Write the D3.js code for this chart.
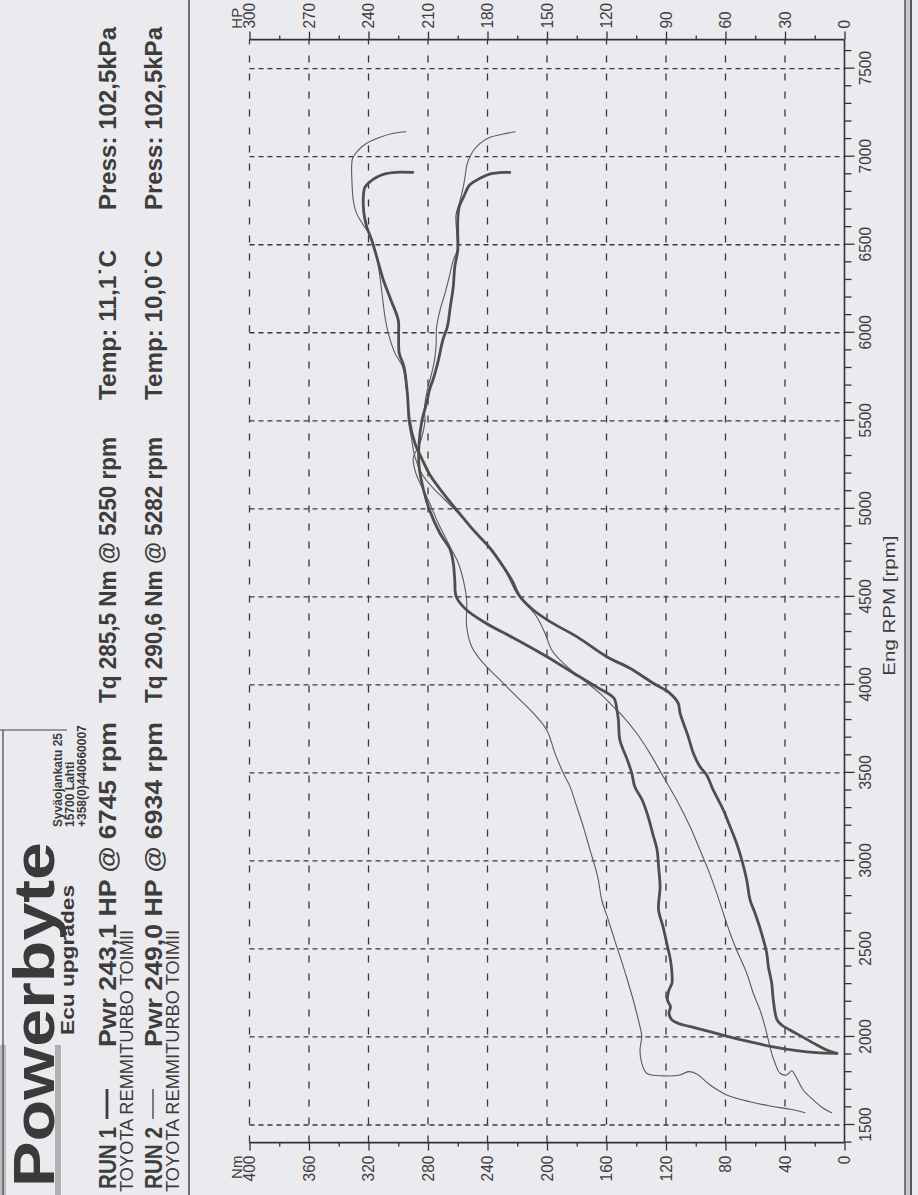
<!DOCTYPE html>
<html><head><meta charset="utf-8">
<script src="https://cdn.jsdelivr.net/npm/d3@7"></script>
<style>
html,body{margin:0;padding:0;background:#ebeaee;}
svg{display:block;}
</style></head><body>
<svg id="chart" width="918" height="1195"></svg>
<script>
// ---------- DATA ----------
const rpmTicks = d3.range(1400, 7601, 100);
const rpmLabels = d3.range(1500, 7501, 500);
const nmTicks = d3.range(0, 401, 20);
const nmLabels = d3.range(0, 401, 40);
const hpTicks = d3.range(0, 301, 15);
const hpLabels = d3.range(0, 301, 30);

const runNames = ["RUN 1", "RUN 2"];
const runCars = ["TOYOTA REMMITURBO TOIMII", "TOYOTA REMMITURBO TOIMII"];
const runPwr = ["Pwr  243,1 HP @ 6745 rpm", "Pwr  249,0 HP @ 6934 rpm"];
const runTq = ["Tq 285,5 Nm @ 5250 rpm", "Tq 290,6 Nm @ 5282 rpm"];
const runTemp = ["Temp: 11,1\u02D9C", "Temp: 10,0\u02D9C"];
const runPress = ["Press: 102,5kPa", "Press: 102,5kPa"];
const address = ["Syv\u00e4ojankatu 25", "15700 Lahti", "+358(0)440660007"];

// RUN 1 (thick)
const run1TqRpm = [1907,1911,1922,1944,1973,2011,2049,2068,2078,2097,2135,2172,2210,2267,2305,2362,2438,2513,2627,2722,2854,2967,3063,3157,3251,3346,3422,3498,3574,3687,3801,3857,3924,3990,4066,4160,4255,4350,4425,4501,4596,4691,4766,4861,4993,5107,5239,5372,5504,5599,5675,5750,5845,5959,6034,6148,6262,6375,6470,6565,6640,6716,6773,6839,6877,6902,6911,6911];
const run1TqNm = [5,19,32,48,64,82,99,108,112,116,118,117,119,118,116,116,117,119,122,125,124,125,126,129,132,136,141,143,146,151,152,153,155,167,182,200,220,241,254,261,262,263,265,272,279,283,286,286,284,281,279,276,273,270,267,265,263,262,260,260,260,259,256,252,245,238,229,225];
const run1PwrRpm = [1907,1926,1955,1999,2040,2068,2097,2210,2305,2400,2475,2589,2703,2778,2892,3006,3100,3195,3289,3403,3488,3536,3611,3706,3839,3895,3952,4009,4094,4160,4274,4359,4425,4501,4596,4671,4776,4880,4993,5088,5192,5287,5372,5504,5656,5807,5883,5997,6072,6186,6300,6432,6527,6602,6678,6773,6826,6858,6883,6902,6911,6911];
const run1PwrHp = [4,9,14,21,27.5,31.7,34,35.9,36.7,38.4,39.2,41.8,45.1,47.6,49.3,51.8,54.4,57.7,61.1,66.2,69.5,72.9,76.2,78.8,82.9,83.8,88,96.4,108.2,119.9,135,148.5,156.9,163.6,167.8,172,178.7,187.2,195.5,202.3,209,213.2,216.6,219.4,220.4,222.1,224.5,224.8,225,228.7,232.5,235.9,238.4,240.9,242.3,242.6,241.8,239.2,235.9,231.7,226.6,217.7];

// RUN 2 (thin)
const run2TqRpm = [1570,1589,1608,1632,1671,1727,1790,1803,1784,1779,1794,1851,1926,2002,2059,2135,2210,2305,2400,2513,2665,2778,2892,2967,3063,3195,3308,3422,3498,3611,3744,3839,3933,4028,4123,4217,4330,4482,4596,4691,4785,4918,5050,5126,5201,5287,5372,5504,5561,5656,5732,5826,5921,6034,6129,6224,6318,6413,6470,6565,6669,6735,6811,6886,6962,7028,7076,7110,7129,7142];
const run2TqNm = [26.6,36.6,50.1,63.5,79.2,90.4,99.4,105,110.6,121.8,133,136.3,137.5,136.3,137.5,139.7,142,145.3,148.7,153.1,158.8,163.2,165.5,167.7,171.1,175.6,180,184.5,189,194.6,200.2,209.2,220.4,231.6,242.8,250.6,254,254,256.3,259.6,265.2,273.1,279.8,284.2,288.1,289.9,285.4,282,282.5,280.9,278.7,276,274.6,274.2,271.9,268.6,265.7,263,260.3,260.7,261.2,259,256.7,255.1,253.6,250,245,238.3,229.4,221.5];
const run2PwrRpm = [1570,1595,1642,1699,1784,1808,1784,1794,1851,1907,1983,2059,2153,2248,2362,2494,2589,2703,2816,2949,3063,3195,3346,3479,3611,3725,3839,3876,3952,4028,4123,4198,4293,4387,4454,4520,4596,4681,4776,4880,4984,5050,5126,5201,5296,5391,5504,5580,5694,5807,5883,5997,6091,6186,6338,6470,6555,6612,6678,6754,6849,6943,6991,7038,7076,7110,7133,7142];
const run2PwrHp = [6.5,10.7,15.7,20.8,25,26.6,29.2,32.5,35,36.7,38.4,40.1,42.6,46,49.3,54.4,57.7,61.1,64.4,68.7,72.9,77.9,84.6,91.4,98.1,104.8,113.2,116.6,123.3,131.7,141.8,147.6,151,155.2,160.2,165.3,168.7,172.8,178.7,187.2,195.5,201.4,208.1,213.2,216.6,218.2,219.9,219.9,221.1,222.8,226.6,230,231.7,232.8,234.5,236.7,239.2,242.6,246,247.7,248.3,248.5,248,245.1,240.9,234.2,227.5,221.1];

// ---------- DRAW ----------
const W = 918, H = 1195;
const ink = "#3d3d3d";
const sans = "'Liberation Sans', Arial, sans-serif";
const narrow = "'Liberation Sans Narrow','Arial Narrow','Liberation Sans',Arial,sans-serif";

const svg = d3.select("#chart");
svg.append("rect").attr("width", W).attr("height", H).attr("fill", "#ebeaee");

// The printout is rotated: draw in a frame where u runs up the page and v runs to the right.
const g = svg.append("g").attr("transform", `translate(0,${H}) rotate(-90)`);

const x = d3.scaleLinear().domain([1500, 7000]).range([70, 1038.3]);
const yNm = d3.scaleLinear().domain([0, 400]).range([844.5, 249.5]);
const yHp = d3.scaleLinear().domain([0, 300]).range([844.5, 249.5]);
const uLo = x(1400), uHi = x(7665);

// grid
g.append("g").selectAll("line").data(rpmLabels).join("line")
  .attr("x1", d => x(d)).attr("x2", d => x(d))
  .attr("y1", yNm(400)).attr("y2", yNm(0))
  .attr("stroke", "#383838").attr("stroke-width", 1.3).attr("stroke-dasharray", "5,4");
g.append("g").selectAll("line").data(nmLabels.filter(d => d > 0)).join("line")
  .attr("x1", uLo).attr("x2", uHi)
  .attr("y1", d => yNm(d)).attr("y2", d => yNm(d))
  .attr("stroke", "#383838").attr("stroke-width", 1.3).attr("stroke-dasharray", "7,11");

function styleLabels(sel, fs) {
  sel.selectAll("text")
    .attr("font-family", narrow).attr("font-size", fs).attr("fill", ink)
    .each(function () {
      const t = d3.select(this).text();
      if (t.length) d3.select(this).attr("textLength", t.length * 8.6).attr("lengthAdjust", "spacingAndGlyphs");
    });
  sel.selectAll("path.domain").remove();
  sel.selectAll(".tick line").attr("stroke", "#333").attr("stroke-width", 1.3);
}

// RPM axis (right side of page)
const axR = g.append("g").attr("transform", `translate(0,${yNm(0)})`)
  .call(d3.axisBottom(x).tickValues(rpmTicks)
    .tickFormat(d => (d % 500 === 0 && d >= 1500 && d <= 7500) ? d : ""));
styleLabels(axR, 17);
axR.selectAll(".tick line").attr("y2", d => d % 500 === 0 ? 10 : 7);
axR.selectAll(".tick text").attr("y", 14);

// Nm axis (bottom of page)
const axN = g.append("g").attr("transform", `translate(${uLo},0)`)
  .call(d3.axisLeft(yNm).tickValues(nmTicks).tickFormat(d => d % 40 === 0 ? d : ""));
styleLabels(axN, 17);
axN.selectAll(".tick line").attr("x2", d => d % 40 === 0 ? -8 : -4);
axN.selectAll(".tick text").attr("x", -13);

// HP axis (top of page)
const axH = g.append("g").attr("transform", `translate(${uHi},0)`)
  .call(d3.axisRight(yHp).tickValues(hpTicks).tickFormat(d => d % 30 === 0 ? d : ""));
styleLabels(axH, 17);
axH.selectAll(".tick line").attr("x2", d => d % 30 === 0 ? 8 : 4);
axH.selectAll(".tick text").attr("x", 11);

// axis lines
const axisStroke = "#333";
g.append("line").attr("x1", uLo).attr("x2", uHi).attr("y1", yNm(0)).attr("y2", yNm(0)).attr("stroke", axisStroke).attr("stroke-width", 1.6);
g.append("line").attr("x1", uLo).attr("x2", uLo).attr("y1", yNm(400)).attr("y2", yNm(0)).attr("stroke", axisStroke).attr("stroke-width", 1.6);
g.append("line").attr("x1", uHi).attr("x2", uHi).attr("y1", yHp(300)).attr("y2", yHp(0)).attr("stroke", axisStroke).attr("stroke-width", 1.6);

// unit labels
g.append("text").attr("x", uLo - 13).attr("y", yNm(400) - 8).attr("text-anchor", "end")
  .attr("font-family", narrow).attr("font-size", 15).attr("fill", ink).text("Nm");
g.append("text").attr("x", uHi + 11).attr("y", yHp(300) - 8).attr("text-anchor", "start")
  .attr("font-family", narrow).attr("font-size", 15).attr("fill", ink).text("HP");
g.append("text").attr("x", x(4450)).attr("y", 895).attr("text-anchor", "middle")
  .attr("font-family", narrow).attr("font-size", 17).attr("fill", ink)
  .attr("textLength", 140).attr("lengthAdjust", "spacingAndGlyphs").text("Eng RPM [rpm]");

// curves
const mk = s => d3.line().x(d => x(d[0])).y(d => s(d[1])).curve(d3.curveCatmullRom.alpha(0.5));
const series = [
  { rpm: run2TqRpm, val: run2TqNm, s: yNm, w: 1.1, c: "#5a5a5a" },
  { rpm: run2PwrRpm, val: run2PwrHp, s: yHp, w: 1.1, c: "#5a5a5a" },
  { rpm: run1TqRpm, val: run1TqNm, s: yNm, w: 2.8, c: "#4e4e4e" },
  { rpm: run1PwrRpm, val: run1PwrHp, s: yHp, w: 2.8, c: "#4e4e4e" }
];
series.forEach(S => {
  g.append("path").datum(S.rpm.map((r, i) => [r, S.val[i]]))
    .attr("d", mk(S.s)).attr("fill", "none").attr("stroke", S.c)
    .attr("stroke-width", S.w).attr("stroke-linejoin", "round").attr("stroke-linecap", "round");
});

// ---------- HEADER ----------
g.append("rect").attr("x", 0).attr("y", 0).attr("width", 150).attr("height", 6).attr("fill", "#bdbdbd");
g.append("rect").attr("x", 0).attr("y", 55).attr("width", 150).attr("height", 6).attr("fill", "#b0b0b0");
g.append("text").attr("x", 8).attr("y", 54).attr("font-family", sans).attr("font-weight", "bold")
  .attr("font-size", 58).attr("fill", "#3a3a3a").attr("textLength", 345).attr("lengthAdjust", "spacingAndGlyphs").text("Powerbyte");
g.append("text").attr("x", 160).attr("y", 74).attr("font-family", sans).attr("font-weight", "bold")
  .attr("font-size", 18).attr("fill", "#3a3a3a").attr("textLength", 150).attr("lengthAdjust", "spacingAndGlyphs").text("Ecu upgrades");
address.forEach((t, i) => {
  g.append("text").attr("x", 368).attr("y", 62 + i * 12).attr("font-family", narrow).attr("font-weight", "bold")
    .attr("font-size", 12).attr("fill", "#3a3a3a").text(t);
});
g.append("line").attr("x1", 0).attr("x2", 465).attr("y1", 3).attr("y2", 3).attr("stroke", "#444").attr("stroke-width", 1.2);
g.append("line").attr("x1", 465).attr("x2", 465).attr("y1", 0).attr("y2", 67).attr("stroke", "#444").attr("stroke-width", 1.2);
g.append("line").attr("x1", 0).attr("x2", H).attr("y1", 189).attr("y2", 189).attr("stroke", "#444").attr("stroke-width", 1.5);

const lineBase = [116, 162];
const subBase = [133, 179];
const legendW = [2.8, 1.3];
runNames.forEach((nm, i) => {
  const b = lineBase[i];
  const txt = (t, u, len) => {
    const e = g.append("text").attr("x", u).attr("y", b).attr("font-family", sans).attr("font-weight", "bold")
      .attr("font-size", 24).attr("fill", ink).text(t);
    if (len) e.attr("textLength", len).attr("lengthAdjust", "spacingAndGlyphs");
  };
  txt(nm, 6, 62);
  g.append("line").attr("x1", 76).attr("x2", 106).attr("y1", b - 9).attr("y2", b - 9)
    .attr("stroke", ink).attr("stroke-width", legendW[i]);
  txt(runPwr[i], 148, 325);
  txt(runTq[i], 492, 266);
  txt(runTemp[i], 795, 150);
  txt(runPress[i], 985, 183);
  g.append("text").attr("x", 3).attr("y", subBase[i]).attr("font-family", narrow)
    .attr("font-size", 19).attr("fill", ink).attr("textLength", 262).attr("lengthAdjust", "spacingAndGlyphs").text(runCars[i]);
});

// right page border (double rule)
g.append("rect").attr("x", 0).attr("y", 905).attr("width", H).attr("height", 6).attr("fill", "#c8c7cb");
g.append("line").attr("x1", 0).attr("x2", H).attr("y1", 905).attr("y2", 905).attr("stroke", "#555").attr("stroke-width", 1.5);
g.append("line").attr("x1", 0).attr("x2", H).attr("y1", 911).attr("y2", 911).attr("stroke", "#555").attr("stroke-width", 2);
</script>
</body></html>
